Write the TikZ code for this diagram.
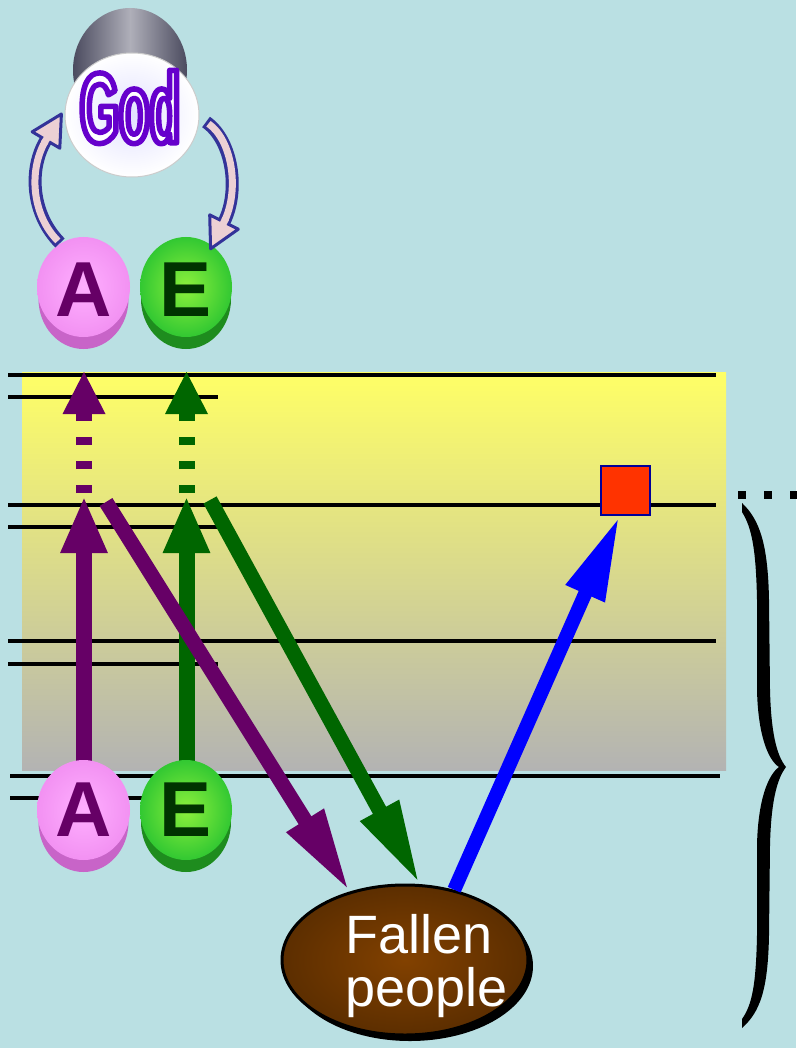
\documentclass[tikz,border=0pt]{standalone}
\usepackage{fontspec}
\setmainfont{Liberation Sans}
\newfontfamily\godfont[FakeStretch=0.5]{Liberation Sans}
\usetikzlibrary{arrows.meta,shapes.geometric,shadows,calc}
\definecolor{bgblue}{RGB}{186,224,227}
\definecolor{purp}{RGB}{102,0,102}
\definecolor{dgreen}{RGB}{0,102,0}
\definecolor{pinkin}{RGB}{255,175,255}
\definecolor{pinkout}{RGB}{242,145,242}
\definecolor{pinkrim}{RGB}{200,100,200}
\definecolor{greenin}{RGB}{140,240,60}
\definecolor{greenout}{RGB}{50,200,50}
\definecolor{greenrim}{RGB}{30,140,30}
\definecolor{eletter}{RGB}{0,51,0}
\definecolor{godpurple}{RGB}{102,0,204}
\definecolor{sqred}{RGB}{255,51,0}
\definecolor{sqblue}{RGB}{0,0,153}
\definecolor{browin}{RGB}{130,65,0}
\definecolor{browout}{RGB}{92,46,0}
\definecolor{yeltop}{RGB}{255,255,102}
\definecolor{graybot}{RGB}{179,179,179}
\definecolor{navyarc}{RGB}{51,51,153}
\definecolor{pinkarc}{RGB}{236,208,212}
\definecolor{capdark}{RGB}{75,75,95}
\definecolor{caplight}{RGB}{175,175,185}
\tikzset{
  hline/.style={black, line width=4},
  vshaft/.style={line width=16},
  vhead/.style={-{Triangle[length=57pt,width=43pt]}},
  dhead/.style={-{Triangle[length=84pt,width=40pt]}},
  letter/.style={font=\fontsize{78}{78}\selectfont\bfseries, inner sep=0},
  fallentext/.style={font=\fontsize{54}{54}\selectfont, text=white, inner sep=0, anchor=base west},
}
\begin{document}
\begin{tikzpicture}[x=1pt,y=-1pt]
\useasboundingbox (0,0) rectangle (796,1048);
\fill[bgblue] (0,0) rectangle (796,1048);
% yellow panel
\shade[top color=yeltop, bottom color=graybot] (22,372) rectangle (726,770);
% horizontal lines
\draw[hline] (8,375) -- (716,375);
\draw[hline] (8,397) -- (218,397);
\draw[hline] (8,505) -- (716,505);
\draw[hline] (8,527) -- (218,527);
\draw[hline] (8,641) -- (716,641);
\draw[hline] (8,664) -- (218,664);
\draw[hline] (10,776) -- (720,776);
\draw[hline] (10,798) -- (218,798);
% coordinates
\coordinate (a0) at (84,765);
\coordinate (a1) at (84,496);
\coordinate (e0) at (186.5,765);
\coordinate (e1) at (186.5,496);
% vertical solid arrows
\draw[dgreen, vshaft, vhead] (e0) -- (e1);
\draw[purp, vshaft, vhead] (a0) -- (a1);
% vertical dashed arrows
\draw[purp, vshaft, dash pattern=on 8pt off 16pt] (84,493) -- (84,413);
\fill[purp] (62.5,414) -- (105.5,414) -- (84,372) -- cycle;
\draw[dgreen, vshaft, dash pattern=on 8pt off 16pt] (186.5,493) -- (186.5,413);
\fill[dgreen] (165,414) -- (208,414) -- (186.5,372) -- cycle;
% fallen people
\node[ellipse, draw=black, line width=3, minimum width=246, minimum height=150,
      inner color=browin, outer color=browout,
      drop shadow={shadow xshift=5pt, shadow yshift=-6pt, fill=black, opacity=1}] (fallen) at (405,960) {};
\node[fallentext] (fallenA) at (345,953) {Fallen};
\node[fallentext] (fallenB) at (345,1006) {people};
% diagonal arrows
\coordinate (pd0) at (106,502);
\coordinate (gd0) at (210,500);
\draw[dgreen, line width=15, dhead] (gd0) -- (fallen.79);
\draw[purp, line width=15, dhead] (pd0) -- (fallen.129);
% red square and blue arrow
\node[draw=sqblue, fill=sqred, line width=2, minimum size=49, inner sep=0] (sq) at (625.5,490.5) {};
\draw[blue, line width=14, -{Triangle[length=85pt,width=39pt]}] (fallen.55) -- ([xshift=-6]sq.south);
% bottom discs
\fill[pinkrim] (83.5,822) ellipse [x radius=45, y radius=50];
\shade[inner color=pinkin, outer color=pinkout] (83.5,810) ellipse [x radius=46.5, y radius=50];
\node[letter, text=purp] (A2) at (84,810) {A};
\fill[greenrim] (186,822) ellipse [x radius=45, y radius=50];
\shade[inner color=greenin, outer color=greenout] (186,810) ellipse [x radius=46, y radius=50];
\node[letter, text=eletter] (E2) at (186,810) {E};
% top discs
\fill[pinkrim] (83.5,299) ellipse [x radius=45, y radius=50];
\shade[inner color=pinkin, outer color=pinkout] (83.5,287) ellipse [x radius=46.5, y radius=50];
\node[letter, text=purp] (A1) at (84,290) {A};
\fill[greenrim] (186,299) ellipse [x radius=45, y radius=50];
\shade[inner color=greenin, outer color=greenout] (186,287) ellipse [x radius=46, y radius=50];
\node[letter, text=eletter] (E1) at (186,290) {E};
% God
\shade[left color=capdark, right color=capdark, middle color=caplight] (130,70) ellipse [x radius=57, y radius=62];
\shade[inner color={rgb,255:red,225;green,225;blue,255}, outer color=white, draw=gray!40, line width=1] (132,115) ellipse [x radius=67, y radius=62];
\node[text=white, inner sep=0, font=\fontsize{100}{100}\selectfont\godfont\bfseries] (god) at (130,107)
  {\special{pdf:literal direct 0.4 0 0.8 RG 2 Tr 5.5 w 1 j}God\special{pdf:literal direct 0 Tr}};
% curved arrows
\draw[navyarc, line width=13] (60,243) .. controls (32,215) and (28,170) .. (46,140);
\draw[pinkarc, line width=7, shorten <=3pt] (60,243) .. controls (32,215) and (28,170) .. (46,140);
\fill[pinkarc] (32.2,131.8) -- (61.4,114) -- (59.8,148.2) -- cycle;
\draw[navyarc, line width=3, line join=round] (32.2,131.8) -- (61.4,114) -- (59.8,148.2) -- cycle;
\draw[pinkarc, line width=7] (44,143.4) -- (48,136.6);
\draw[navyarc, line width=13] (206,122) .. controls (232,140) and (240,190) .. (224,222);
\draw[pinkarc, line width=7, shorten <=3pt] (206,122) .. controls (232,140) and (240,190) .. (224,222);
\fill[pinkarc] (238.3,229.2) -- (210.6,248.8) -- (209.7,214.8) -- cycle;
\draw[navyarc, line width=3, line join=round] (238.3,229.2) -- (210.6,248.8) -- (209.7,214.8) -- cycle;
\draw[pinkarc, line width=7] (225.8,218.4) -- (222.2,225.6);
% dots
\fill[black] (738,491) rectangle (746,499);
\fill[black] (764,491) rectangle (772,499);
\fill[black] (790,491) rectangle (798,499);
% brace
\fill[black] (742,503) .. controls (760,520) and (768,545) .. (769,600) -- (770,690)
  .. controls (771,730) and (776,755) .. (786,767)
  .. controls (776,780) and (771,805) .. (770,845) -- (769,935)
  .. controls (768,990) and (760,1012) .. (742,1028) -- (742,1019)
  .. controls (752,1005) and (756,985) .. (757,935) -- (757,845)
  .. controls (758,800) and (768,775) .. (779,767)
  .. controls (768,760) and (758,735) .. (757,690) -- (757,600)
  .. controls (756,550) and (752,528) .. (742,512) -- cycle;
\end{tikzpicture}
\end{document}
